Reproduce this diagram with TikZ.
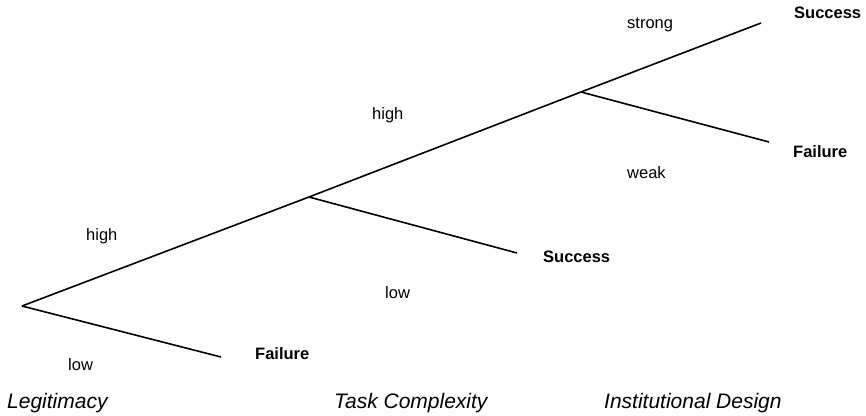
\documentclass[tikz,border=0pt]{standalone}
\usepackage{fontspec}
\setmainfont{Liberation Sans}
\usetikzlibrary{positioning}
\newcommand{\treesize}{\fontsize{16.5}{19}\selectfont}
\newcommand{\levelsize}{\fontsize{21}{24}\selectfont}
\tikzset{
	branch/.style = {line width=1.6pt},
	outcome/.style = {font=\treesize\bfseries},
	level/.style = {font=\levelsize\itshape}
}

\begin{document}
\begin{tikzpicture}[x=1pt, y=-1pt]
	\useasboundingbox (0,0) rectangle (866,415);
	\tikzstyle{every node}=[font=\treesize, inner sep=0pt, anchor=base west]
	
	% tree points
	\coordinate (root) at (22,306);
	\coordinate (legit) at (309,197);
	\coordinate (task) at (581,92);
	\coordinate (strongEnd) at (761,23);
	\coordinate (weakEnd) at (769,142);
	\coordinate (simpleEnd) at (517,253);
	\coordinate (lowEnd) at (221,357);
	
	\draw [branch] (root) -- (legit) -- (task) -- (strongEnd);
	\draw [branch] (task) -- (weakEnd);
	\draw [branch] (legit) -- (simpleEnd);
	\draw [branch] (root) -- (lowEnd);
	
	% outcomes
	\node [outcome] (succTop) at (794,18) {Success};
	\node [outcome] (failTop) at (793,157) {Failure};
	\node [outcome] (succMid) at (543,262) {Success};
	\node [outcome] (failLow) at (255,359) {Failure};
	
	% branch labels
	\node (strong) at (627,28) {strong};
	\node (weak) at (627,178) {weak};
	\node (highTask) at (372,119) {high};
	\node (lowTask) at (385,298) {low};
	\node (highLegit) at (86,240) {high};
	\node (lowLegit) at (68,370) {low};
	
	% levels
	\node [level] (legitimacy) at (7,408) {Legitimacy};
	\node [level] (complexity) at (334,408) {Task Complexity};
	\node [level] (design) at (604,408) {Institutional Design};
	
\end{tikzpicture}
\end{document}
